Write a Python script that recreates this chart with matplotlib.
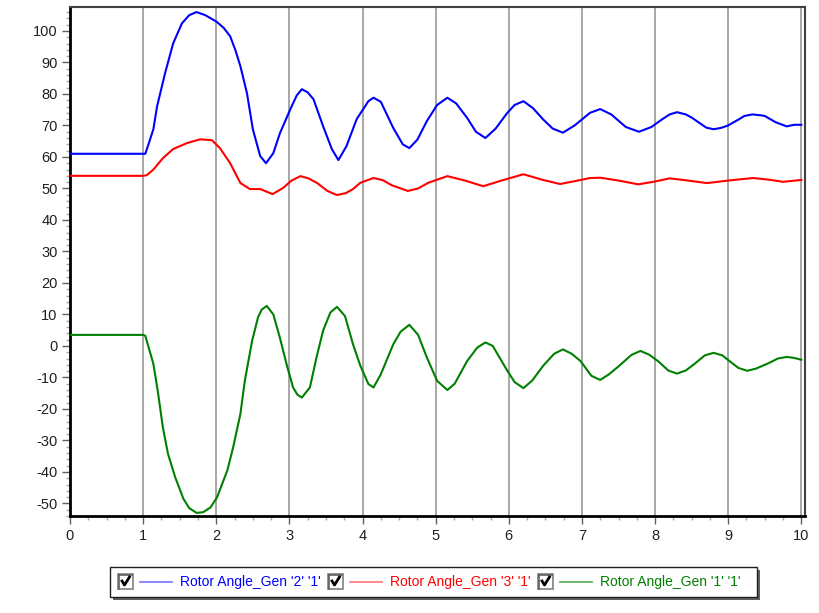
import matplotlib
matplotlib.use('Agg')
import matplotlib.pyplot as plt
from matplotlib.ticker import MultipleLocator
from matplotlib.patches import Rectangle
from matplotlib.lines import Line2D

plt.rcParams['font.family'] = ['Liberation Sans', 'DejaVu Sans']
plt.rcParams['axes.unicode_minus'] = False

# Rotor Angle_Gen '2' '1'
t_gen2 = [0, 1.0, 1.03, 1.08, 1.14, 1.19, 1.3, 1.41, 1.53, 1.63, 1.73, 1.85, 2.0, 2.1, 2.19,
          2.26, 2.33, 2.42, 2.5, 2.6, 2.68, 2.78, 2.87, 3.01, 3.1, 3.17, 3.25, 3.33, 3.46,
          3.58, 3.67, 3.78, 3.92, 4.08, 4.15, 4.25, 4.42, 4.55, 4.64, 4.75, 4.88,
          5.02, 5.16, 5.28, 5.43, 5.55, 5.68, 5.82, 5.98, 6.08, 6.2, 6.33, 6.47, 6.6,
          6.74, 6.9, 7.11, 7.25, 7.4, 7.6, 7.78, 7.95, 8.1, 8.2, 8.3, 8.42, 8.5, 8.7,
          8.8, 8.9, 9.0, 9.15, 9.22, 9.33, 9.45, 9.5, 9.65, 9.8, 9.9, 10.0]
v_gen2 = [61, 61, 61, 64.5, 68.8, 76, 86.6, 96, 102.4, 105, 106, 105, 103, 101, 98.3,
          94, 88.8, 80.2, 68.8, 60.3, 58, 61.2, 67.5, 75, 79.5, 81.5, 80.5, 78.3, 69.8,
          62.5, 59, 63.4, 72, 77.7, 78.8, 77.5, 69.2, 64, 62.8, 65.5, 71.4,
          76.5, 78.8, 77, 72.4, 68, 66, 69, 74, 76.5, 77.7, 75.5, 71.9, 69,
          67.7, 70, 74, 75.2, 73.5, 69.5, 68, 69.5, 72, 73.5, 74.2, 73.5, 72.5, 69.3,
          68.8, 69.2, 70, 72, 73, 73.5, 73.2, 73, 71, 69.7, 70.2, 70.2]

# Rotor Angle_Gen '3' '1'
t_gen3 = [0, 1.0, 1.05, 1.14, 1.27, 1.41, 1.6, 1.78, 1.94, 2.05, 2.19, 2.33, 2.46,
          2.6, 2.77, 2.91, 3.03, 3.15, 3.26, 3.38, 3.52, 3.65, 3.77, 3.87, 3.97, 4.15,
          4.28, 4.4, 4.62, 4.76, 4.9, 5.16, 5.4, 5.65, 5.9, 6.2, 6.45, 6.7, 6.9,
          7.11, 7.25, 7.5, 7.77, 8.0, 8.2, 8.45, 8.71, 9.0, 9.34, 9.55, 9.75, 10.0]
v_gen3 = [54, 54, 54.2, 56, 59.6, 62.5, 64.4, 65.6, 65.3, 62.8, 58, 51.7, 49.8,
          49.8, 48.2, 50.1, 52.5, 53.9, 53.2, 51.7, 49.2, 47.9, 48.5, 49.8, 51.8, 53.3,
          52.6, 51, 49.2, 50, 51.8, 53.9, 52.5, 50.7, 52.5, 54.5, 52.8, 51.4, 52.3,
          53.3, 53.4, 52.5, 51.3, 52.2, 53.2, 52.5, 51.7, 52.5, 53.3, 52.8, 52.1, 52.7]

# Rotor Angle_Gen '1' '1'
t_gen1 = [0, 1.0, 1.03, 1.14, 1.2, 1.27, 1.34, 1.44, 1.55, 1.63, 1.73, 1.82, 1.92,
          2.01, 2.15, 2.23, 2.33, 2.39, 2.49, 2.57, 2.62, 2.69, 2.78, 2.87, 2.96, 3.05,
          3.11, 3.17, 3.28, 3.37, 3.46, 3.56, 3.65, 3.76, 3.87, 3.97, 4.08, 4.15, 4.25,
          4.42, 4.52, 4.64, 4.76, 4.88, 5.02, 5.16, 5.26, 5.43, 5.57, 5.68, 5.78, 5.98,
          6.08, 6.2, 6.32, 6.47, 6.62, 6.74, 6.86, 6.98, 7.13, 7.25, 7.37, 7.5, 7.68,
          7.8, 7.92, 8.05, 8.18, 8.3, 8.42, 8.55, 8.68, 8.8, 8.92, 9.0, 9.14, 9.26,
          9.38, 9.55, 9.68, 9.8, 9.9, 10.0]
v_gen1 = [3.5, 3.5, 3.2, -5.7, -14.3, -25.9, -34.3, -41.8, -48.5, -51.5, -53, -52.8, -51.3,
          -48.1, -39.6, -32.3, -21.6, -11.1, 1.6, 9, 11.5, 12.7, 10, 2.6, -5.7, -13.2,
          -15.5, -16.4, -13.2, -3.7, 4.8, 10.6, 12.4, 9.5, 0.5, -6.3, -12.1, -13.2, -9,
          0.5, 4.5, 6.7, 3.5, -3.7, -11.1, -14, -12, -4.8, -0.5, 1.1, 0, -7.9,
          -11.5, -13.4, -11, -6.3, -2.5, -1.1, -2.5, -4.8, -9.5, -10.8, -9, -6.5, -2.8,
          -1.6, -2.8, -5, -7.8, -8.8, -7.8, -5.5, -3, -2.2, -3, -4.5, -7, -7.9,
          -7.2, -5.5, -4, -3.5, -3.8, -4.4]

labels = ["Rotor Angle_Gen '2' '1'", "Rotor Angle_Gen '3' '1'", "Rotor Angle_Gen '1' '1'"]
colors = ['#0000ff', '#ff0000', '#008000']
legend_line_colors = ['#7f7fff', '#ff8080', '#66b366']
x_ticks = list(range(0, 11))
y_ticks = list(range(-50, 101, 10))

fig = plt.figure(figsize=(8.19, 6.13), dpi=100)
ax = fig.add_axes([70 / 819, 1 - 516 / 613, 735 / 819, 509 / 613])

series = [(t_gen2, v_gen2), (t_gen3, v_gen3), (t_gen1, v_gen1)]
for (t, v), c in zip(series, colors):
    ax.plot(t, v, color=c, lw=1.5, zorder=3)

ax.set_xlim(0, 10.05)
ax.set_ylim(-54, 107.6)
ax.set_xticks(x_ticks)
ax.set_yticks(y_ticks)
ax.xaxis.set_minor_locator(MultipleLocator(0.25))
ax.yaxis.set_minor_locator(MultipleLocator(2))
ax.tick_params(which='major', direction='out', length=6, width=1, color='#606060',
               labelsize=10.5, pad=3, labelcolor='#202020')
ax.tick_params(which='minor', direction='out', length=3, width=1, color='#a8a8a8')
ax.grid(axis='x', which='major', color='#a0a0a0', lw=1.3, zorder=1)
ax.set_axisbelow(True)

for side in ['left', 'bottom']:
    ax.spines[side].set_linewidth(2)
    ax.spines[side].set_color('black')
for side in ['top', 'right']:
    ax.spines[side].set_linewidth(1.5)
    ax.spines[side].set_color('#404040')

# legend box drawn in pixel coordinates
lax = fig.add_axes([0, 0, 1, 1], zorder=5)
lax.set_xlim(0, 819)
lax.set_ylim(613, 0)
lax.axis('off')
lax.patch.set_alpha(0)
lax.add_patch(Rectangle((113, 570), 647, 30, facecolor='#606060', edgecolor='none'))
lax.add_patch(Rectangle((110, 567), 647, 30, facecolor='white', edgecolor='#202020', lw=1))

for i, (lab, c, lc) in enumerate(zip(labels, colors, legend_line_colors)):
    x0 = 118 + i * 210
    lax.add_patch(Rectangle((x0, 574), 15, 15, facecolor='white', edgecolor='#808080', lw=1.2))
    lax.add_line(Line2D([x0 + 1, x0 + 14], [574.5, 574.5], color='#606060', lw=1.2))
    lax.add_line(Line2D([x0 + 1, x0 + 1], [574.5, 588.5], color='#606060', lw=1.2))
    lax.add_line(Line2D([x0 + 4, x0 + 6.5, x0 + 11.5], [581, 585, 577], color='black', lw=2))
    lax.add_line(Line2D([x0 + 22, x0 + 54], [581.5, 581.5], color=lc, lw=1.3))
    lax.text(x0 + 62, 582, lab, color=c, fontsize=10, va='center', ha='left')

fig.savefig('out.png', dpi=100)
